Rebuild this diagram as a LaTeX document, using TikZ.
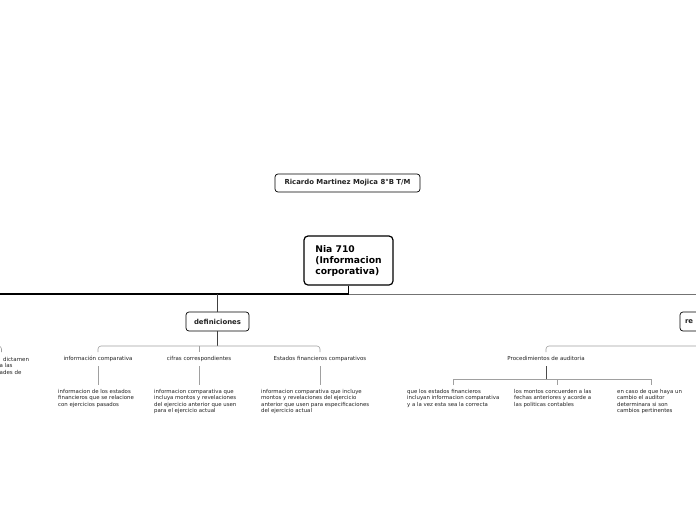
\documentclass[tikz,border=0pt]{standalone}
\usepackage{fontspec}
\setmainfont{DejaVu Sans}
\definecolor{brk}{HTML}{A0A0A0}
\definecolor{txt}{HTML}{222222}
\begin{document}
\begin{tikzpicture}[x=1pt,y=-1pt,
  topbox/.style={draw, rounded corners=3pt, fill=white, line width=0.7pt, text=txt,
    font=\bfseries\fontsize{6.9}{8}\selectfont, inner sep=0pt},
  mainbox/.style={draw, rounded corners=4pt, fill=white, line width=1.2pt, align=left,
    font=\bfseries\fontsize{9.2}{11}\selectfont, minimum width=89pt, minimum height=49pt, inner sep=0pt},
  lbl/.style={font=\fontsize{5.5}{6.5}\selectfont, text=txt, inner sep=0pt},
  desc/.style={font=\fontsize{5.4}{6.5}\selectfont, text=txt, align=left, anchor=north west, inner sep=0pt},
  gline/.style={draw=brk, line width=0.6pt},
  rline/.style={draw=brk, line width=0.6pt, rounded corners=3pt},
  dline/.style={draw=black!75, line width=0.8pt}]
\useasboundingbox (0,0) rectangle (696,520);
\fill[white] (0,0) rectangle (696,520);
\clip (0,0) rectangle (696,520);

% title
\node[topbox, minimum width=145pt, minimum height=18pt] (title) at (347.5,183) {Ricardo Martinez Mojica 8°B T/M};

% main node
\node[mainbox] (main) at (348.5,260.5) {Nia 710\\(Informacion\\corporativa)};
\coordinate (j) at (348.5,294);
\coordinate (jl) at (-5,294);
\coordinate (jr) at (710,294);
\draw[black, line width=1.2pt] (main.south) -- (j);
\draw[black, line width=1.6pt] (j) -- (jl);
\draw[black!55, line width=1pt] (j) -- (jr);

% definiciones
\node[topbox, minimum width=63pt, minimum height=19pt] (def) at (217.5,321.5) {definiciones};
\draw[dline] (def.north |- j) -- (def.north);
\coordinate (db) at (217.5,346);
\draw[dline] (def.south) -- (db);

\node[lbl] (ic) at (98,358.5) {información comparativa};
\node[lbl] (cc) at (199,358.5) {cifras correspondientes};
\node[lbl] (ef) at (320,358.5) {Estados financieros comparativos};
\draw[rline] (98,352) -- (98,346) -- (320,346) -- (320,352);
\draw[rline] (199,346) -- (199,352);

\node[desc] (d1) at (58,389) {informacion de los estados\\financieros que se relacione\\con ejercicios pasados};
\node[desc] (d2) at (154,389) {informacion comparativa que\\incluya montos y revelaciones\\del ejercicio anterior que usen\\para el ejercicio actual};
\node[desc] (d3) at (261,389) {informacion comparativa que incluye\\montos y revelaciones del ejercicio\\anterior que usen para especificaciones\\del ejercicio actual};
\draw[gline] (98,366) -- (98,385);
\draw[gline] (199,366) -- (199,385);
\draw[gline] (320,366) -- (320,385);

% right branch
\node[topbox, minimum width=60pt, minimum height=19pt, text width=50pt, align=left] (re) at (710,321.5) {re};
\draw[black!55, line width=1pt] (re.north |- jr) -- (re.north);
\draw[rline] (re.south) -- (710,346) -- (546,346) -- (546,352);

\node[lbl] (pa) at (546,358.5) {Procedimientos de auditoria};
\coordinate (pb) at (546,379);
\draw[black!70, line width=1pt] (546,366) -- (pb);
\draw[gline] (453,385) -- (453,379) -- (651,379) -- (651,385);
\draw[gline] (557,379) -- (557,385);

\node[desc] (p1) at (407,389) {que los estados financieros\\incluyan informacion comparativa\\y a la vez esta sea la correcta};
\node[desc] (p2) at (514,389) {los montos concuerden a las\\fechas anteriores y acorde a\\las politicas contables};
\node[desc] (p3) at (617,389) {en caso de que haya un\\cambio el auditor\\determinara si son\\cambios pertinentes};

% left clipped branch
\draw[rline] (-20,346) -- (1.5,346) -- (1.5,352);
\node[lbl, anchor=west] (l1) at (3,359) {dictamen};
\node[lbl, anchor=west] (l2) at (-0.5,365.5) {a las};
\node[lbl, anchor=west] (l3) at (-0.5,372) {ades de};
\end{tikzpicture}
\end{document}
